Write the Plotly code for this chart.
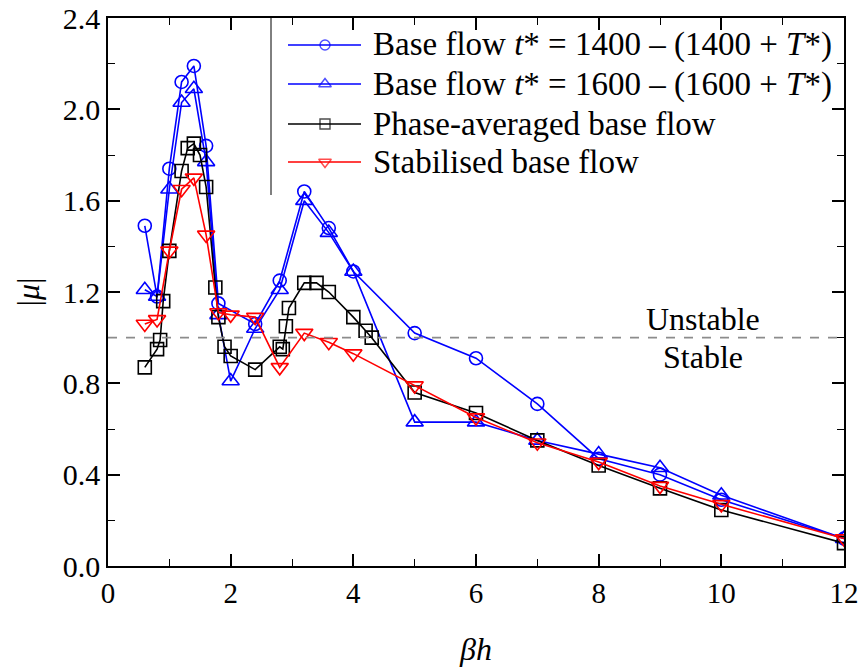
import plotly.graph_objects as go

# ---- data ----
x_1400 = [0.6, 0.8, 1.0, 1.2, 1.4, 1.6, 1.8, 2.4, 2.8, 3.2, 3.6, 4.0, 5, 6, 7, 8, 9, 10, 12]
y_1400 = [1.49, 1.18, 1.74, 2.12, 2.19, 1.84, 1.15, 1.06, 1.25, 1.64, 1.48, 1.29, 1.02, 0.91, 0.71, 0.47, 0.40, 0.29, 0.12]

x_1600 = [0.6, 0.8, 1.0, 1.2, 1.4, 1.6, 1.8, 2.0, 2.4, 2.8, 3.2, 3.6, 4.0, 5, 6, 7, 8, 9, 10, 12]
y_1600 = [1.21, 1.18, 1.65, 2.03, 2.09, 1.77, 1.10, 0.81, 1.04, 1.21, 1.60, 1.46, 1.29, 0.63, 0.63, 0.55, 0.49, 0.43, 0.31, 0.12]

x_phase = [0.6, 0.8, 0.85, 0.9, 1.0, 1.2, 1.3, 1.4, 1.5, 1.6, 1.75, 1.8, 1.9, 2.0, 2.4, 2.8, 2.85, 2.9, 2.95,
           3.2, 3.4, 3.6, 4.0, 4.2, 4.3, 5, 6, 7, 8, 9, 10, 12]
y_phase = [0.87, 0.95, 0.99, 1.16, 1.38, 1.73, 1.83, 1.85, 1.80, 1.66, 1.22, 1.09, 0.96, 0.92, 0.86, 0.96, 0.95, 1.05, 1.13,
           1.24, 1.24, 1.20, 1.09, 1.03, 1.00, 0.76, 0.67, 0.55, 0.44, 0.34, 0.245, 0.10]

x_stab = [0.6, 0.8, 1.0, 1.2, 1.4, 1.6, 1.8, 2.0, 2.4, 2.8, 3.2, 3.6, 4.0, 5, 6, 7, 8, 9, 10, 12]
y_stab = [1.06, 1.08, 1.38, 1.65, 1.70, 1.45, 1.11, 1.10, 1.09, 0.87, 1.02, 0.98, 0.93, 0.79, 0.65, 0.54, 0.455, 0.35, 0.27, 0.12]

names = ["Base flow <i>t</i>* = 1400 \u2013 (1400 + <i>T</i>*)",
         "Base flow <i>t</i>* = 1600 \u2013 (1600 + <i>T</i>*)",
         "Phase-averaged base flow",
         "Stabilised base flow"]

FONT = "Liberation Serif, Times New Roman, serif"

# plot area in pixels (layout only)
W, H = 859, 671
ML, MR, MT, MB = 108, 15, 18, 105
PW, PH = W - ML - MR, H - MT - MB

def px(xp):
    return (xp - ML) / PW

def py(yp):
    return (H - MB - yp) / PH

fig = go.Figure()
series = [
    (x_1400, y_1400, "#0000FF", "circle-open", 13),
    (x_1600, y_1600, "#0000FF", "triangle-up-open", 15),
    (x_phase, y_phase, "#000000", "square-open", 13),
    (x_stab, y_stab, "#FF0000", "triangle-down-open", 15),
]
for (xs, ys, col, sym, sz), nm in zip(series, names):
    fig.add_trace(go.Scatter(
        x=xs, y=ys, name=nm, mode="lines+markers", showlegend=False,
        line=dict(color=col, width=1.6),
        marker=dict(symbol=sym, size=sz, color=col, line=dict(color=col, width=1.6)),
    ))

# ---- hand-built legend (layout positions) ----
leg_x0, leg_xm, leg_x1, leg_text_x = px(288), px(325), px(361), px(371)
leg_rows = [py(45), py(84), py(124), py(162)]
leg_msize = [10, 11, 10, 11]
for (xs, ys, col, sym, sz), nm, ry, ms in zip(series, names, leg_rows, leg_msize):
    fig.add_trace(go.Scatter(
        x=[leg_x0, leg_xm, leg_x1], y=[ry, ry, ry], xaxis="x2", yaxis="y2",
        mode="lines+markers", showlegend=False, hoverinfo="skip", cliponaxis=False,
        line=dict(color=col, width=1.6),
        marker=dict(symbol=sym, size=[0, ms, 0], color=col, line=dict(color=col, width=1.4)),
    ))
    fig.add_annotation(x=leg_text_x, y=ry, xref="paper", yref="paper", text=nm,
                       showarrow=False, xanchor="left", yanchor="middle",
                       font=dict(family=FONT, size=33, color="black"))
fig.add_shape(type="line", xref="paper", yref="paper", x0=px(271), x1=px(271), y0=1.0, y1=py(195),
              line=dict(color="black", width=1))

fig.add_shape(type="line", x0=0, x1=12, y0=1.0, y1=1.0, xref="x", yref="y",
              line=dict(color="#8c8c8c", width=1.6, dash="dash"))

fig.add_annotation(x=9.7, y=1.08, text="Unstable", showarrow=False,
                   font=dict(family=FONT, size=32, color="black"))
fig.add_annotation(x=9.7, y=0.915, text="Stable", showarrow=False,
                   font=dict(family=FONT, size=32, color="black"))

axis_common = dict(
    showline=True, linecolor="black", linewidth=1.5, mirror="ticks",
    ticks="inside", ticklen=12, tickwidth=1.5, tickcolor="black",
    showgrid=False, zeroline=False, automargin=False,
)

fig.update_layout(
    xaxis=dict(range=[0, 12], dtick=2, tick0=0, ticklabeloverflow="allow",
               tickfont=dict(family=FONT, size=29, color="black"),
               minor=dict(dtick=1, ticks="inside", ticklen=7, tickwidth=1.2, tickcolor="black"),
               title=dict(text="<i>\u03b2h</i>", font=dict(family=FONT, size=32, color="black"), standoff=30),
               **axis_common),
    yaxis=dict(range=[0, 2.4], dtick=0.4, tick0=0, tickformat=".1f",
               tickfont=dict(family=FONT, size=30, color="black"),
               minor=dict(dtick=0.2, ticks="inside", ticklen=7, tickwidth=1.2, tickcolor="black"),
               title=dict(text="|<i>\u03bc</i>|", font=dict(family=FONT, size=32, color="black"), standoff=14),
               **axis_common),
    xaxis2=dict(overlaying="x", range=[0, 1], visible=False, fixedrange=True),
    yaxis2=dict(overlaying="y", range=[0, 1], visible=False, fixedrange=True),
    width=W, height=H,
    margin=dict(l=ML, r=MR, t=MT, b=MB, autoexpand=False),
    plot_bgcolor="white", paper_bgcolor="white",
    font=dict(family=FONT, size=30, color="black"),
    showlegend=False,
)

fig.write_html("out.html")
